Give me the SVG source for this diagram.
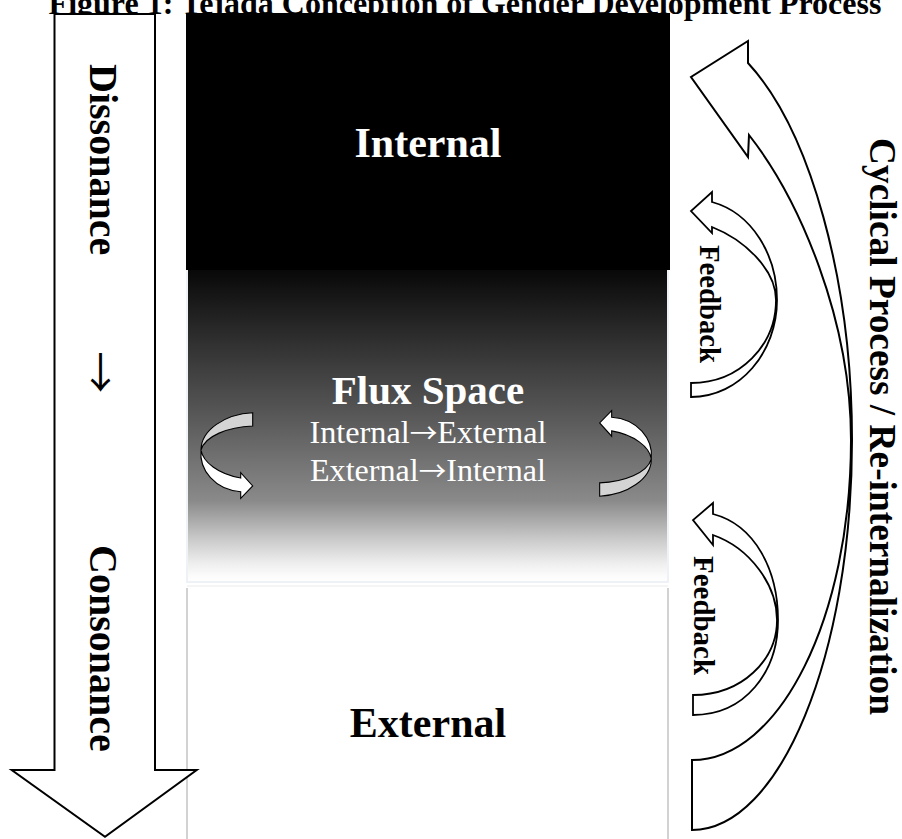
<svg xmlns="http://www.w3.org/2000/svg" width="902" height="839" viewBox="0 0 902 839">
<style>
text{font-family:"Liberation Serif","Times New Roman",serif;fill:#000;}
.b{font-weight:bold;}
.w{fill:#fff;}
.arr{font-family:"Noto Sans CJK JP","Noto Sans CJK SC",sans-serif;font-weight:normal;}
.outline{fill:#fff;stroke:#000;stroke-width:2;stroke-linejoin:miter;}
.fb{fill:#fff;stroke:#000;stroke-width:1.8;stroke-linejoin:miter;}
.front{fill:#fff;stroke:#000;stroke-width:1.1;}
.back{fill:#d4d4d4;stroke:#000;stroke-width:1.1;}
</style>
<defs>
<linearGradient id="fluxGrad" x1="0" y1="0" x2="0" y2="1">
<stop offset="0" stop-color="#080808"/>
<stop offset="0.29" stop-color="#3a3a3a"/>
<stop offset="0.48" stop-color="#5a5a5a"/>
<stop offset="0.74" stop-color="#8a8a8a"/>
<stop offset="0.865" stop-color="#cbcbcb"/>
<stop offset="0.94" stop-color="#eeeeee"/>
<stop offset="0.98" stop-color="#fbfbfb"/>
<stop offset="1" stop-color="#fefefe"/>
</linearGradient>
<g id="twist">
<path class="back" d="M252.7,412.7 L252.7,426 C228,427 205,436 201,450 C201,430 225,414 252.7,412.7 Z"/>
<path class="front" d="M201,450 C203,462 218,474 240.7,478 L240.7,472.7 L252.7,486 L240.7,498.3 L240.7,491.7 C215,490 199,470 201,450 Z"/>
</g>
</defs>
<rect width="902" height="839" fill="#fff"/>
<text class="b" x="465" y="14" font-size="32" text-anchor="middle">Figure 1: Tejada Conception of Gender Development Process</text>

<g id="internal">
<rect x="186" y="13" width="484" height="257" fill="#000"/>
<text class="b w" x="428" y="157" font-size="42" text-anchor="middle">Internal</text>
</g>

<g id="flux-space">
<rect x="187" y="270" width="481" height="312" fill="url(#fluxGrad)"/>
<path d="M187,270 V582 H668 V270" fill="none" stroke="#eef1f5" stroke-width="2"/>
<text class="b w" x="428" y="404" font-size="41" text-anchor="middle">Flux Space</text>
<text class="w" x="428" y="443" font-size="31.5" text-anchor="middle" textLength="237" lengthAdjust="spacingAndGlyphs">Internal<tspan class="arr w" font-size="27">→</tspan>External</text>
<text class="w" x="428" y="481" font-size="31.5" text-anchor="middle" textLength="236" lengthAdjust="spacingAndGlyphs">External<tspan class="arr w" font-size="27">→</tspan>Internal</text>
</g>

<g id="external">
<rect x="187" y="586" width="481" height="260" fill="#fff"/>
<path d="M187,586 H668" stroke="#f2f2f2" stroke-width="1.5" fill="none"/>
<path d="M187,588 V839 M668,588 V839" stroke="#c4c4c4" stroke-width="1.5" fill="none"/>
<text class="b" x="428" y="737" font-size="42" text-anchor="middle">External</text>
</g>

<g id="flux-twist-left">
<use href="#twist"/>
</g>
<g id="flux-twist-right">
<use href="#twist" transform="translate(852.35,908.9) rotate(180)"/>
</g>

<g id="dissonance-consonance">
<path class="outline" d="M54.5,14 H155 V770 H196.7 L105,836.7 L11.7,770 H54.5 Z"/>
<text class="b" font-size="40" transform="translate(90,64) rotate(90)">Dissonance</text>
<text class="arr" x="100.5" y="388" font-size="42" text-anchor="middle">↓</text>
<text class="b" font-size="40" transform="translate(90,545) rotate(90)">Consonance</text>
</g>

<g id="connectors">
<g id="cyclical-process">
<path class="outline" d="M692,830 L692,760 C780,760 851,617 851,440 C851,320 800,200 749,135 L748,157 L691,77 L748,41 L748,63 C810,130 852,280 852,440 C852,655 780,830 692,830 Z"/>
<text class="b" font-size="37.5" textLength="577" lengthAdjust="spacingAndGlyphs" transform="translate(870,138) rotate(90)">Cyclical Process / Re-internalization</text>
</g>
<g id="feedback-upper">
<path class="fb" d="M691,397 L691,383 C740,383 776,345 776,300 C776,270 745,240 712,227 L712,233 L691,211 L712,192 L712,202 C752,213 777,255 777,300 C777,352 740,397 691,397 Z"/>
<text class="b" font-size="29" textLength="118" lengthAdjust="spacingAndGlyphs" transform="translate(700,245) rotate(90)">Feedback</text>
</g>
<g id="feedback-lower">
<path class="fb" d="M693,715 L693,695 C742,695 777,660 777,620 C777,585 750,548 713,535 L713,545 L693,520 L713,503 L713,514 C755,525 778,570 778,620 C778,672 745,715 693,715 Z"/>
<text class="b" font-size="29" textLength="119" lengthAdjust="spacingAndGlyphs" transform="translate(693.5,556) rotate(90)">Feedback</text>
</g>
</g>
</svg>
